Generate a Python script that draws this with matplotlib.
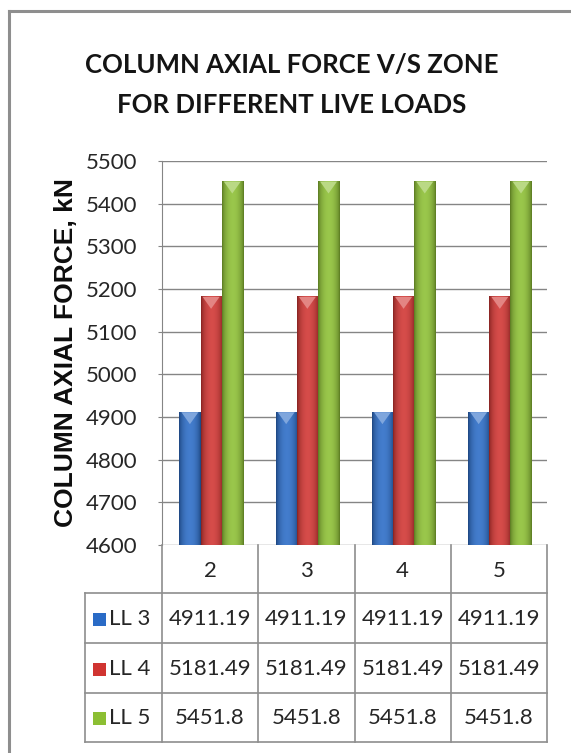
import numpy as np
import matplotlib
matplotlib.use("Agg")
import matplotlib.pyplot as plt
from matplotlib.colors import to_rgb
from matplotlib.lines import Line2D
from matplotlib.patches import Polygon, Rectangle

# Data
zones = ["2", "3", "4", "5"]
series_names = ["LL 3", "LL 4", "LL 5"]
ll3 = [4911.19, 4911.19, 4911.19, 4911.19]
ll4 = [5181.49, 5181.49, 5181.49, 5181.49]
ll5 = [5451.8, 5451.8, 5451.8, 5451.8]
table_text = [["4911.19"] * 4, ["5181.49"] * 4, ["5451.8"] * 4]
y_ticks = [4600, 4700, 4800, 4900, 5000, 5100, 5200, 5300, 5400, 5500]

series = [ll3, ll4, ll5]
colors = ["#2a6bc6", "#d03431", "#8cbf33"]

W, H = 571, 753
fig = plt.figure(figsize=(W / 100, H / 100), dpi=100)
fig.patch.set_facecolor("white")

FONT = "Lato"
TXT = "#262626"
GRID = "#858585"


def fx(px):
    return px / W


def fy(py):
    return 1 - py / H


# chart frame (top and left edges)
fig.add_artist(Line2D([fx(9), fx(9)], [fy(11), fy(753)], color="#8e8e8e", lw=2.2))
fig.add_artist(Line2D([fx(9), fx(571)], [fy(11), fy(11)], color="#8e8e8e", lw=2.2))

# title
fig.text(fx(292), fy(65), "COLUMN AXIAL FORCE V/S ZONE", ha="center", va="center",
         fontsize=18.5, fontweight="bold", family=FONT, color="#141414")
fig.text(fx(292), fy(105), "FOR DIFFERENT LIVE LOADS", ha="center", va="center",
         fontsize=18.5, fontweight="bold", family=FONT, color="#141414")

# plot area
x_left, x_right, y_top, y_bot = 162, 547, 161, 545
ax = fig.add_axes([fx(x_left), fy(y_bot), fx(x_right - x_left), (y_bot - y_top) / H])
ax.set_xlim(-0.5, len(zones) - 0.5)
ax.set_ylim(y_ticks[0], y_ticks[-1])
ax.set_yticks(y_ticks)
ax.set_yticklabels([str(t) for t in y_ticks], family=FONT, fontsize=16, color=TXT)
ax.set_xticks([])
for s in ["top", "right", "bottom"]:
    ax.spines[s].set_visible(False)
ax.spines["left"].set_color(GRID)
ax.tick_params(axis="y", length=3, color=GRID, pad=15)
ax.yaxis.grid(True, color=GRID, lw=1)
ax.set_axisbelow(True)
ax.set_ylabel("COLUMN AXIAL FORCE, kN", family="Liberation Sans", fontweight="bold",
              fontsize=19, color="#0d0d0d")
ax.yaxis.set_label_coords(-(x_left - 78) / (x_right - x_left), 0.5)

bar_w = 0.22
offsets = [-bar_w, 0.0, bar_w]
base = y_ticks[0]
cap_h = 28  # height of bevelled top cap in data units

t = np.linspace(0, 1, 64)
profile = np.sin(np.pi * t) ** 0.6


def shade(c, f):
    c = np.array(to_rgb(c))
    dark = c * 0.62
    light = np.clip(c + (1 - c) * 0.12, 0, 1)
    return dark + (light - dark) * f


for si, (vals, col) in enumerate(zip(series, colors)):
    grad = np.array([shade(col, f) for f in profile])[None, :, :]
    for ci, v in enumerate(vals):
        x0 = ci + offsets[si] - bar_w / 2 + 0.01
        x1 = x0 + bar_w
        ax.imshow(grad, extent=(x0, x1, base, v), aspect="auto", zorder=3,
                  interpolation="bilinear")
        c = np.array(to_rgb(col))
        capc = np.clip(c + (1 - c) * 0.4, 0, 1)
        ax.add_patch(Polygon([[x0 + bar_w * 0.1, v], [x1 - bar_w * 0.1, v],
                              [(x0 + x1) / 2, v - cap_h]], closed=True,
                             facecolor=capc, edgecolor="none", zorder=4))
ax.set_xlim(-0.5, len(zones) - 0.5)
ax.set_ylim(y_ticks[0], y_ticks[-1])

# data table below the plot
tab_left = 85
col_edges = [x_left + (x_right - x_left) * i / len(zones) for i in range(len(zones) + 1)]
row_edges = [545, 593, 643, 693, 742]
LC = "#8e8e8e"
for xe in col_edges:
    fig.add_artist(Line2D([fx(xe), fx(xe)], [fy(row_edges[0]), fy(row_edges[-1])],
                          color=LC, lw=1.2))
fig.add_artist(Line2D([fx(tab_left), fx(tab_left)], [fy(row_edges[1]), fy(row_edges[-1])],
                      color=LC, lw=1.2))
for ye in row_edges[1:]:
    fig.add_artist(Line2D([fx(tab_left), fx(x_right)], [fy(ye), fy(ye)], color=LC, lw=1.2))

for ci, z in enumerate(zones):
    xc = (col_edges[ci] + col_edges[ci + 1]) / 2
    fig.text(fx(xc), fy((row_edges[0] + row_edges[1]) / 2 + 2), z, ha="center", va="center",
             family=FONT, fontsize=16, color=TXT)

for ri, name in enumerate(series_names):
    yc = (row_edges[ri + 1] + row_edges[ri + 2]) / 2 + 1
    # legend key
    kx, ks = 93, 13
    fig.add_artist(Rectangle((fx(kx), fy(yc + ks / 2)), fx(ks), ks / H,
                             facecolor=colors[ri], edgecolor="none"))
    fig.text(fx(kx + ks + 3), fy(yc), name, ha="left", va="center",
             family=FONT, fontsize=16, color=TXT)
    for ci in range(len(zones)):
        xc = (col_edges[ci] + col_edges[ci + 1]) / 2
        fig.text(fx(xc), fy(yc), table_text[ri][ci], ha="center", va="center",
                 family=FONT, fontsize=16, color=TXT)

fig.savefig("out.png", dpi=100, facecolor="white")
